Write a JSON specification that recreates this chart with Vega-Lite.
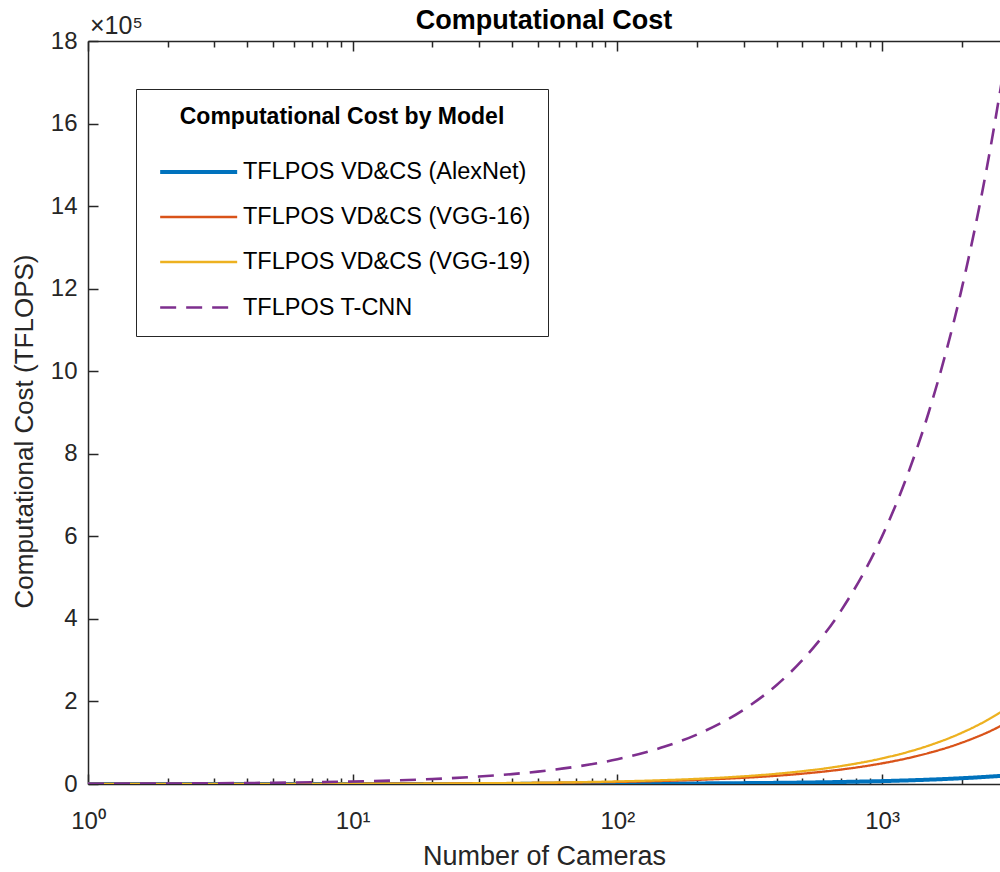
{
  "$schema": "https://vega.github.io/schema/vega-lite/v6.json",
  "width": 912,
  "height": 743,
  "autosize": {"type": "none"},
  "padding": {"left": 88, "top": 41, "right": 0, "bottom": 88},
  "background": "white",
  "config": {
    "view": {"stroke": null},
    "font": "Liberation Sans",
    "axis": {
      "grid": false,
      "domainColor": "#262626",
      "domainWidth": 1.5,
      "tickColor": "#262626",
      "tickWidth": 1.5,
      "labelColor": "#262626",
      "labelFont": "Liberation Sans",
      "labelFontSize": 24,
      "titleColor": "#262626",
      "titleFont": "Liberation Sans",
      "titleFontSize": 26,
      "titleFontWeight": "normal"
    }
  },
  "title": {
    "text": "Computational Cost",
    "font": "Liberation Sans",
    "fontSize": 27,
    "fontWeight": "bold",
    "color": "#000000",
    "anchor": "middle",
    "frame": "group",
    "offset": 10,
    "dy": 31
  },
  "data": {
    "values": [
      {"n": 1, "cost": 7, "model": "TFLPOS VD&CS (AlexNet)"},
      {"n": 1.5, "cost": 10.5, "model": "TFLPOS VD&CS (AlexNet)"},
      {"n": 2, "cost": 14, "model": "TFLPOS VD&CS (AlexNet)"},
      {"n": 3, "cost": 21, "model": "TFLPOS VD&CS (AlexNet)"},
      {"n": 4, "cost": 28, "model": "TFLPOS VD&CS (AlexNet)"},
      {"n": 5, "cost": 35, "model": "TFLPOS VD&CS (AlexNet)"},
      {"n": 7, "cost": 49, "model": "TFLPOS VD&CS (AlexNet)"},
      {"n": 10, "cost": 70, "model": "TFLPOS VD&CS (AlexNet)"},
      {"n": 15, "cost": 105, "model": "TFLPOS VD&CS (AlexNet)"},
      {"n": 20, "cost": 140, "model": "TFLPOS VD&CS (AlexNet)"},
      {"n": 30, "cost": 210, "model": "TFLPOS VD&CS (AlexNet)"},
      {"n": 40, "cost": 280, "model": "TFLPOS VD&CS (AlexNet)"},
      {"n": 50, "cost": 350, "model": "TFLPOS VD&CS (AlexNet)"},
      {"n": 70, "cost": 490, "model": "TFLPOS VD&CS (AlexNet)"},
      {"n": 100, "cost": 700, "model": "TFLPOS VD&CS (AlexNet)"},
      {"n": 150, "cost": 1050, "model": "TFLPOS VD&CS (AlexNet)"},
      {"n": 200, "cost": 1400, "model": "TFLPOS VD&CS (AlexNet)"},
      {"n": 300, "cost": 2100, "model": "TFLPOS VD&CS (AlexNet)"},
      {"n": 400, "cost": 2800, "model": "TFLPOS VD&CS (AlexNet)"},
      {"n": 500, "cost": 3500, "model": "TFLPOS VD&CS (AlexNet)"},
      {"n": 700, "cost": 4900, "model": "TFLPOS VD&CS (AlexNet)"},
      {"n": 1000, "cost": 7000, "model": "TFLPOS VD&CS (AlexNet)"},
      {"n": 1250, "cost": 8750, "model": "TFLPOS VD&CS (AlexNet)"},
      {"n": 1500, "cost": 10500, "model": "TFLPOS VD&CS (AlexNet)"},
      {"n": 2000, "cost": 14000, "model": "TFLPOS VD&CS (AlexNet)"},
      {"n": 2500, "cost": 17500, "model": "TFLPOS VD&CS (AlexNet)"},
      {"n": 3000, "cost": 21000, "model": "TFLPOS VD&CS (AlexNet)"},
      {"n": 1, "cost": 50, "model": "TFLPOS VD&CS (VGG-16)"},
      {"n": 1.5, "cost": 75, "model": "TFLPOS VD&CS (VGG-16)"},
      {"n": 2, "cost": 100, "model": "TFLPOS VD&CS (VGG-16)"},
      {"n": 3, "cost": 150, "model": "TFLPOS VD&CS (VGG-16)"},
      {"n": 4, "cost": 200, "model": "TFLPOS VD&CS (VGG-16)"},
      {"n": 5, "cost": 250, "model": "TFLPOS VD&CS (VGG-16)"},
      {"n": 7, "cost": 350, "model": "TFLPOS VD&CS (VGG-16)"},
      {"n": 10, "cost": 500, "model": "TFLPOS VD&CS (VGG-16)"},
      {"n": 15, "cost": 750, "model": "TFLPOS VD&CS (VGG-16)"},
      {"n": 20, "cost": 1000, "model": "TFLPOS VD&CS (VGG-16)"},
      {"n": 30, "cost": 1500, "model": "TFLPOS VD&CS (VGG-16)"},
      {"n": 40, "cost": 2000, "model": "TFLPOS VD&CS (VGG-16)"},
      {"n": 50, "cost": 2500, "model": "TFLPOS VD&CS (VGG-16)"},
      {"n": 70, "cost": 3500, "model": "TFLPOS VD&CS (VGG-16)"},
      {"n": 100, "cost": 5000, "model": "TFLPOS VD&CS (VGG-16)"},
      {"n": 150, "cost": 7500, "model": "TFLPOS VD&CS (VGG-16)"},
      {"n": 200, "cost": 10000, "model": "TFLPOS VD&CS (VGG-16)"},
      {"n": 300, "cost": 15000, "model": "TFLPOS VD&CS (VGG-16)"},
      {"n": 400, "cost": 20000, "model": "TFLPOS VD&CS (VGG-16)"},
      {"n": 500, "cost": 25000, "model": "TFLPOS VD&CS (VGG-16)"},
      {"n": 700, "cost": 35000, "model": "TFLPOS VD&CS (VGG-16)"},
      {"n": 1000, "cost": 50000, "model": "TFLPOS VD&CS (VGG-16)"},
      {"n": 1250, "cost": 62500, "model": "TFLPOS VD&CS (VGG-16)"},
      {"n": 1500, "cost": 75000, "model": "TFLPOS VD&CS (VGG-16)"},
      {"n": 2000, "cost": 100000, "model": "TFLPOS VD&CS (VGG-16)"},
      {"n": 2500, "cost": 125000, "model": "TFLPOS VD&CS (VGG-16)"},
      {"n": 3000, "cost": 150000, "model": "TFLPOS VD&CS (VGG-16)"},
      {"n": 1, "cost": 62, "model": "TFLPOS VD&CS (VGG-19)"},
      {"n": 1.5, "cost": 93, "model": "TFLPOS VD&CS (VGG-19)"},
      {"n": 2, "cost": 124, "model": "TFLPOS VD&CS (VGG-19)"},
      {"n": 3, "cost": 186, "model": "TFLPOS VD&CS (VGG-19)"},
      {"n": 4, "cost": 248, "model": "TFLPOS VD&CS (VGG-19)"},
      {"n": 5, "cost": 310, "model": "TFLPOS VD&CS (VGG-19)"},
      {"n": 7, "cost": 434, "model": "TFLPOS VD&CS (VGG-19)"},
      {"n": 10, "cost": 620, "model": "TFLPOS VD&CS (VGG-19)"},
      {"n": 15, "cost": 930, "model": "TFLPOS VD&CS (VGG-19)"},
      {"n": 20, "cost": 1240, "model": "TFLPOS VD&CS (VGG-19)"},
      {"n": 30, "cost": 1860, "model": "TFLPOS VD&CS (VGG-19)"},
      {"n": 40, "cost": 2480, "model": "TFLPOS VD&CS (VGG-19)"},
      {"n": 50, "cost": 3100, "model": "TFLPOS VD&CS (VGG-19)"},
      {"n": 70, "cost": 4340, "model": "TFLPOS VD&CS (VGG-19)"},
      {"n": 100, "cost": 6200, "model": "TFLPOS VD&CS (VGG-19)"},
      {"n": 150, "cost": 9300, "model": "TFLPOS VD&CS (VGG-19)"},
      {"n": 200, "cost": 12400, "model": "TFLPOS VD&CS (VGG-19)"},
      {"n": 300, "cost": 18600, "model": "TFLPOS VD&CS (VGG-19)"},
      {"n": 400, "cost": 24800, "model": "TFLPOS VD&CS (VGG-19)"},
      {"n": 500, "cost": 31000, "model": "TFLPOS VD&CS (VGG-19)"},
      {"n": 700, "cost": 43400, "model": "TFLPOS VD&CS (VGG-19)"},
      {"n": 1000, "cost": 62000, "model": "TFLPOS VD&CS (VGG-19)"},
      {"n": 1250, "cost": 77500, "model": "TFLPOS VD&CS (VGG-19)"},
      {"n": 1500, "cost": 93000, "model": "TFLPOS VD&CS (VGG-19)"},
      {"n": 2000, "cost": 124000, "model": "TFLPOS VD&CS (VGG-19)"},
      {"n": 2500, "cost": 155000, "model": "TFLPOS VD&CS (VGG-19)"},
      {"n": 3000, "cost": 186000, "model": "TFLPOS VD&CS (VGG-19)"},
      {"n": 1, "cost": 600, "model": "TFLPOS T-CNN"},
      {"n": 1.5, "cost": 900, "model": "TFLPOS T-CNN"},
      {"n": 2, "cost": 1200, "model": "TFLPOS T-CNN"},
      {"n": 3, "cost": 1800, "model": "TFLPOS T-CNN"},
      {"n": 4, "cost": 2400, "model": "TFLPOS T-CNN"},
      {"n": 5, "cost": 3000, "model": "TFLPOS T-CNN"},
      {"n": 7, "cost": 4200, "model": "TFLPOS T-CNN"},
      {"n": 10, "cost": 6000, "model": "TFLPOS T-CNN"},
      {"n": 15, "cost": 9000, "model": "TFLPOS T-CNN"},
      {"n": 20, "cost": 12000, "model": "TFLPOS T-CNN"},
      {"n": 30, "cost": 18000, "model": "TFLPOS T-CNN"},
      {"n": 40, "cost": 24000, "model": "TFLPOS T-CNN"},
      {"n": 50, "cost": 30000, "model": "TFLPOS T-CNN"},
      {"n": 70, "cost": 42000, "model": "TFLPOS T-CNN"},
      {"n": 100, "cost": 60000, "model": "TFLPOS T-CNN"},
      {"n": 150, "cost": 90000, "model": "TFLPOS T-CNN"},
      {"n": 200, "cost": 120000, "model": "TFLPOS T-CNN"},
      {"n": 300, "cost": 180000, "model": "TFLPOS T-CNN"},
      {"n": 400, "cost": 240000, "model": "TFLPOS T-CNN"},
      {"n": 500, "cost": 300000, "model": "TFLPOS T-CNN"},
      {"n": 700, "cost": 420000, "model": "TFLPOS T-CNN"},
      {"n": 1000, "cost": 600000, "model": "TFLPOS T-CNN"},
      {"n": 1250, "cost": 750000, "model": "TFLPOS T-CNN"},
      {"n": 1500, "cost": 900000, "model": "TFLPOS T-CNN"},
      {"n": 2000, "cost": 1200000, "model": "TFLPOS T-CNN"},
      {"n": 2500, "cost": 1500000, "model": "TFLPOS T-CNN"},
      {"n": 3000, "cost": 1800000, "model": "TFLPOS T-CNN"}
    ]
  },
  "layer": [
    {
      "mark": {"type": "line", "clip": true, "interpolate": "monotone"},
      "encoding": {
        "x": {
          "field": "n", "type": "quantitative",
          "scale": {"type": "log", "domain": [1, 2790], "nice": false},
          "axis": {
            "orient": "bottom",
            "values": [1, 10, 100, 1000],
            "labelExpr": "datum.value == 1 ? '10⁰' : datum.value == 10 ? '10¹' : datum.value == 100 ? '10²' : '10³'",
            "tickSize": -10,
            "labelPadding": 35,
            "labelFlush": false,
            "labelOverlap": false,
            "title": "Number of Cameras",
            "titleFontSize": 27,
            "titlePadding": 10
          }
        },
        "y": {
          "field": "cost", "type": "quantitative",
          "scale": {"domain": [0, 1800000], "nice": false},
          "axis": {
            "orient": "left",
            "values": [0, 200000, 400000, 600000, 800000, 1000000, 1200000, 1400000, 1600000, 1800000],
            "labelExpr": "format(datum.value / 100000, 'd')",
            "tickSize": -10,
            "labelPadding": 21,
            "title": "Computational Cost (TFLOPS)",
            "titleY": 390,
            "titlePadding": 13
          }
        },
        "color": {
          "field": "model", "type": "nominal",
          "scale": {
            "domain": ["TFLPOS VD&CS (AlexNet)", "TFLPOS VD&CS (VGG-16)", "TFLPOS VD&CS (VGG-19)", "TFLPOS T-CNN"],
            "range": ["#0072BD", "#D95319", "#EDB120", "#7E2F8E"]
          },
          "legend": {
            "orient": "none",
            "legendX": 48,
            "legendY": 48,
            "title": "Computational Cost by Model",
            "titleFont": "Liberation Sans",
            "titleFontSize": 23,
            "titleFontWeight": "bold",
            "titleColor": "#000000",
            "titleAnchor": "middle",
            "titlePadding": 28,
            "titleLimit": 600,
            "labelFont": "Liberation Sans",
            "labelFontSize": 23.5,
            "labelColor": "#000000",
            "labelLimit": 600,
            "labelOffset": 55,
            "symbolType": "M-1,0H5",
            "symbolSize": 659,
            "symbolOffset": 5,
            "padding": 17,
            "rowPadding": 19,
            "fillColor": "white",
            "strokeColor": "#262626"
          }
        },
        "strokeWidth": {
          "field": "model", "type": "nominal",
          "scale": {
            "type": "ordinal",
            "domain": ["TFLPOS VD&CS (AlexNet)", "TFLPOS VD&CS (VGG-16)", "TFLPOS VD&CS (VGG-19)", "TFLPOS T-CNN"],
            "range": [4, 2.3, 2.3, 2.6]
          }
        },
        "strokeDash": {
          "field": "model", "type": "nominal",
          "scale": {
            "domain": ["TFLPOS VD&CS (AlexNet)", "TFLPOS VD&CS (VGG-16)", "TFLPOS VD&CS (VGG-19)", "TFLPOS T-CNN"],
            "range": [[1, 0], [1, 0], [1, 0], [16, 10]]
          }
        }
      }
    },
    {
      "mark": {"type": "point", "opacity": 0},
      "encoding": {
        "x": {
          "field": "n", "type": "quantitative",
          "axis": {
            "orient": "bottom",
            "values": [2, 3, 4, 5, 6, 7, 8, 9, 20, 30, 40, 50, 60, 70, 80, 90, 200, 300, 400, 500, 600, 700, 800, 900, 2000],
            "labels": false,
            "domain": false,
            "tickSize": -6,
            "title": null
          }
        },
        "y": {"field": "cost", "type": "quantitative", "axis": null}
      }
    },
    {
      "mark": {"type": "point", "opacity": 0},
      "encoding": {
        "x": {
          "field": "n", "type": "quantitative",
          "axis": {
            "orient": "top",
            "values": [1, 10, 100, 1000],
            "labels": false,
            "tickSize": -10,
            "title": null
          }
        },
        "y": {"field": "cost", "type": "quantitative", "axis": null}
      }
    },
    {
      "mark": {"type": "point", "opacity": 0},
      "encoding": {
        "x": {
          "field": "n", "type": "quantitative",
          "axis": {
            "orient": "top",
            "values": [2, 3, 4, 5, 6, 7, 8, 9, 20, 30, 40, 50, 60, 70, 80, 90, 200, 300, 400, 500, 600, 700, 800, 900, 2000],
            "labels": false,
            "domain": false,
            "tickSize": -6,
            "title": null
          }
        },
        "y": {"field": "cost", "type": "quantitative", "axis": null}
      }
    },
    {
      "data": {"values": [{"t": "×10⁵"}]},
      "mark": {"type": "text", "align": "left", "baseline": "alphabetic", "dx": 2, "dy": -7, "fontSize": 25, "font": "Liberation Sans", "color": "#262626"},
      "encoding": {
        "x": {"datum": 1, "type": "quantitative", "axis": null},
        "y": {"datum": 1800000, "type": "quantitative", "axis": null},
        "text": {"field": "t"}
      }
    }
  ],
  "resolve": {"axis": {"x": "independent", "y": "independent"}}
}
